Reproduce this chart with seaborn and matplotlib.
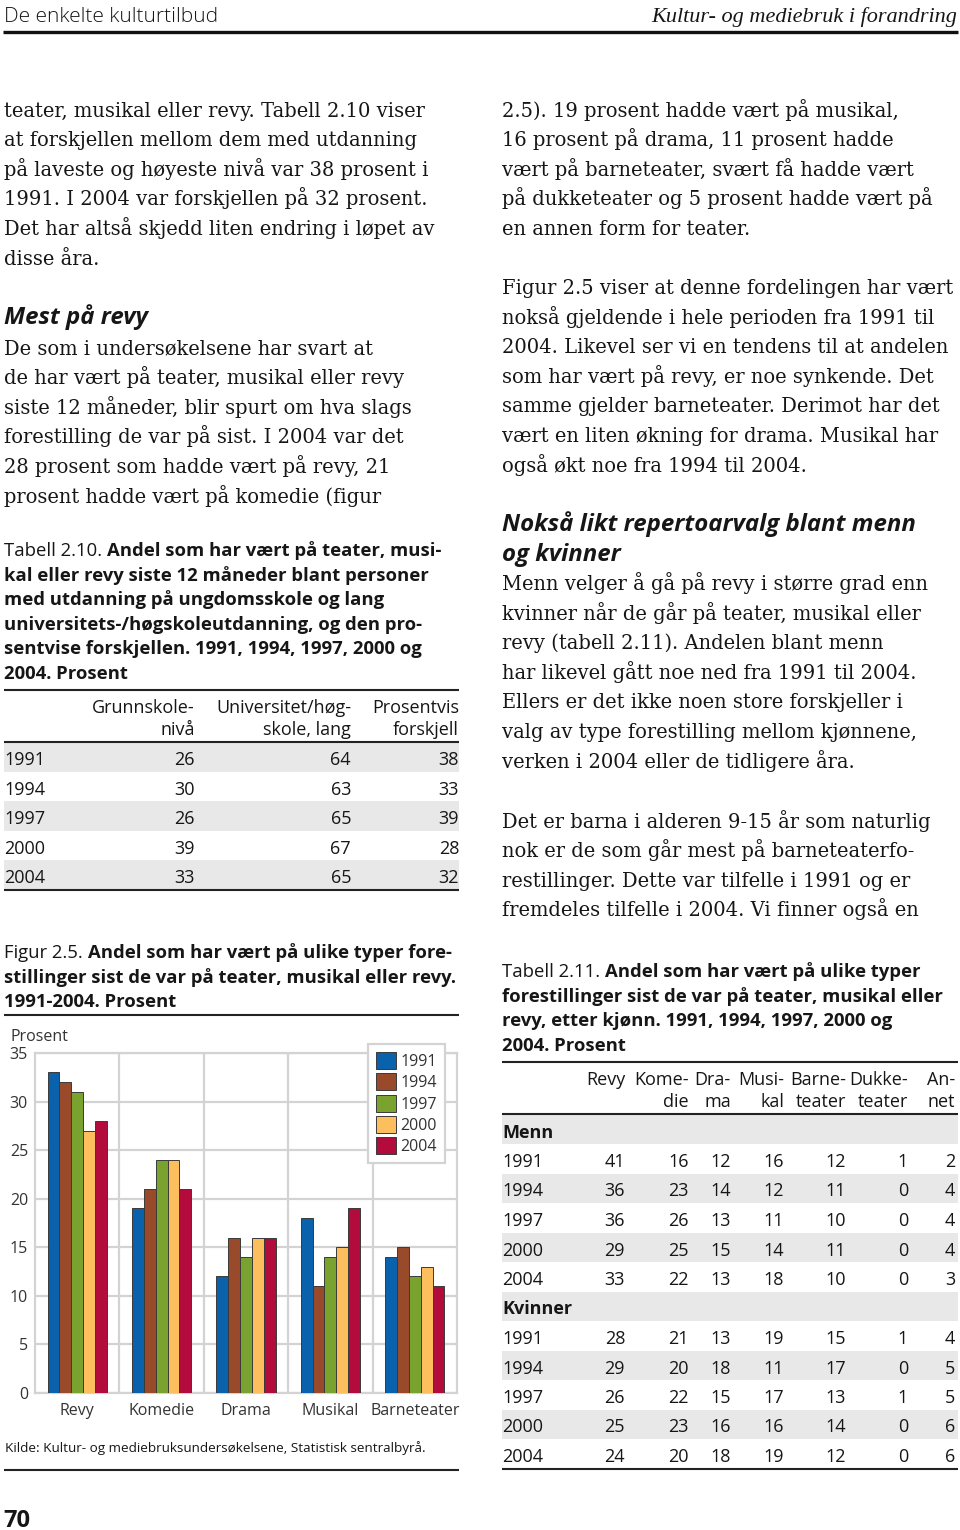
import numpy as np
import pandas as pd
import seaborn as sns
import matplotlib.pyplot as plt
from matplotlib import font_manager as fm

# Figur 2.5 data
categories = ['Revy', 'Komedie', 'Drama', 'Musikal', 'Barneteater']
years = ['1991', '1994', '1997', '2000', '2004']
v1991 = [33, 19, 12, 18, 14]
v1994 = [32, 21, 16, 11, 15]
v1997 = [31, 24, 14, 14, 12]
v2000 = [27, 24, 16, 15, 13]
v2004 = [28, 21, 16, 19, 11]
bar_colors = ['#0B62AC', '#984A2B', '#79A22F', '#FDBF5E', '#B40B3D']

# Tabell 2.10 data
t10_years = ['1991', '1994', '1997', '2000', '2004']
t10_grunn = [26, 30, 26, 39, 33]
t10_uni = [64, 63, 65, 67, 65]
t10_diff = [38, 33, 39, 28, 32]

# Tabell 2.11 data (Revy, Komedie, Drama, Musikal, Barneteater, Dukketeater, Annet)
t11_years = ['1991', '1994', '1997', '2000', '2004']
menn_rows = [[41, 16, 12, 16, 12, 1, 2],
             [36, 23, 14, 12, 11, 0, 4],
             [36, 26, 13, 11, 10, 0, 4],
             [29, 25, 15, 14, 11, 0, 4],
             [33, 22, 13, 18, 10, 0, 3]]
kvinner_rows = [[28, 21, 13, 19, 15, 1, 4],
                [29, 20, 18, 11, 17, 0, 5],
                [26, 22, 15, 17, 13, 1, 5],
                [25, 23, 16, 16, 14, 0, 6],
                [24, 20, 18, 19, 12, 0, 6]]

left_text = ["teater, musikal eller revy. Tabell 2.10 viser",
             "at forskjellen mellom dem med utdanning",
             "på laveste og høyeste nivå var 38 prosent i",
             "1991. I 2004 var forskjellen på 32 prosent.",
             "Det har altså skjedd liten endring i løpet av",
             "disse åra."]
left_text2 = ["De som i undersøkelsene har svart at",
              "de har vært på teater, musikal eller revy",
              "siste 12 måneder, blir spurt om hva slags",
              "forestilling de var på sist. I 2004 var det",
              "28 prosent som hadde vært på revy, 21",
              "prosent hadde vært på komedie (figur"]
right_text = ["2.5). 19 prosent hadde vært på musikal,",
              "16 prosent på drama, 11 prosent hadde",
              "vært på barneteater, svært få hadde vært",
              "på dukketeater og 5 prosent hadde vært på",
              "en annen form for teater."]
right_text2 = ["Figur 2.5 viser at denne fordelingen har vært",
               "nokså gjeldende i hele perioden fra 1991 til",
               "2004. Likevel ser vi en tendens til at andelen",
               "som har vært på revy, er noe synkende. Det",
               "samme gjelder barneteater. Derimot har det",
               "vært en liten økning for drama. Musikal har",
               "også økt noe fra 1994 til 2004."]
right_text3 = ["Menn velger å gå på revy i større grad enn",
               "kvinner når de går på teater, musikal eller",
               "revy (tabell 2.11). Andelen blant menn",
               "har likevel gått noe ned fra 1991 til 2004.",
               "Ellers er det ikke noen store forskjeller i",
               "valg av type forestilling mellom kjønnene,",
               "verken i 2004 eller de tidligere åra."]
right_text4 = ["Det er barna i alderen 9-15 år som naturlig",
               "nok er de som går mest på barneteaterfo-",
               "restillinger. Dette var tilfelle i 1991 og er",
               "fremdeles tilfelle i 2004. Vi finner også en"]


def pick_sans():
    """First installed sans family that really has a bold face."""
    for fam in ['Open Sans', 'Noto Sans', 'Lato', 'Roboto', 'Liberation Sans']:
        try:
            path = fm.findfont(fm.FontProperties(family=fam, weight='bold'),
                               fallback_to_default=False)
        except ValueError:
            continue
        name = path.lower().replace(' ', '').replace('-', '')
        if 'bold' in name and fam.lower().replace(' ', '') in name:
            return fam
    return 'DejaVu Sans'


sns.set_theme(style='white')
SANS_FAM = pick_sans()
plt.rcParams['font.family'] = [SANS_FAM, 'DejaVu Sans']

SERIF = 'DejaVu Serif'
SANS = [SANS_FAM, 'DejaVu Sans']
INK = '#161616'
BAND = '#E8E8E8'
SERIF_SIZE = 14.05
CAP_SIZE = 13.3
HEAD_SIZE = 17.3

fig = plt.figure(figsize=(9.6, 15.3), dpi=100)
page = fig.add_axes([0, 0, 1, 1])
page.set_xlim(0, 960)
page.set_ylim(1530, 0)
page.axis('off')


def body(x, y0, lines, step=29.6):
    for i, s in enumerate(lines):
        page.text(x, y0 + i * step, s, family=SERIF, fontsize=SERIF_SIZE, color=INK, va='baseline')


def caption(x, y0, first_reg, first_bold, rest, step=24.6):
    t = page.text(x, y0, first_reg, family=SANS, fontsize=CAP_SIZE, color=INK, va='baseline')
    page.annotate(first_bold, xy=(1, 0), xycoords=t, va='bottom', ha='left',
                  family=SANS, fontsize=CAP_SIZE, fontweight='bold', color=INK)
    for i, s in enumerate(rest):
        page.text(x, y0 + (i + 1) * step, s, family=SANS, fontsize=CAP_SIZE,
                  fontweight='bold', color=INK, va='baseline')


def heading(x, y, s):
    page.text(x, y, s, family=SANS, fontsize=HEAD_SIZE, fontweight='bold',
              style='italic', color=INK, va='baseline')


# header
page.text(4, 22, 'De enkelte kulturtilbud', family=SANS, fontsize=15, fontweight='light',
          color=INK, va='baseline')
page.text(957, 22, 'Kultur- og mediebruk i forandring', family='Liberation Serif',
          style='italic', fontsize=16, color=INK, va='baseline', ha='right')
page.hlines(32, 3, 958, color='#111', lw=2.4)

# left column text
body(4, 116.5, left_text)
heading(4, 324, 'Mest på revy')
body(4, 354.5, left_text2)

# right column text
body(502, 116.5, right_text)
body(502, 294, right_text2)
heading(502, 531, 'Nokså likt repertoarvalg blant menn')
heading(502, 560.5, 'og kvinner')
body(502, 590, right_text3)
body(502, 827.5, right_text4)

# Tabell 2.10
caption(4, 556, 'Tabell 2.10. ', 'Andel som har vært på teater, musi-',
        ['kal eller revy siste 12 måneder blant personer',
         'med utdanning på ungdomsskole og lang',
         'universitets-/høgskoleutdanning, og den pro-',
         'sentvise forskjellen. 1991, 1994, 1997, 2000 og',
         '2004. Prosent'])
page.hlines(690, 4, 459, color='#222', lw=1.5)
for xr, (h1, h2) in zip([195, 351, 459], [('Grunnskole-', 'nivå'),
                                          ('Universitet/høg-', 'skole, lang'),
                                          ('Prosentvis', 'forskjell')]):
    page.text(xr, 713, h1, family=SANS, fontsize=13, color=INK, ha='right', va='baseline')
    page.text(xr, 734.5, h2, family=SANS, fontsize=13, color=INK, ha='right', va='baseline')
page.hlines(742, 4, 459, color='#222', lw=1.5)
for i, yr in enumerate(t10_years):
    top = 742 + i * 29.5
    if i % 2 == 0:
        page.fill_between([4, 459], top, top + 29.5, color=BAND, lw=0)
    yb = top + 23
    page.text(4, yb, yr, family=SANS, fontsize=13, color=INK, va='baseline')
    for xr, val in zip([195, 351, 459], [t10_grunn[i], t10_uni[i], t10_diff[i]]):
        page.text(xr, yb, str(val), family=SANS, fontsize=13, color=INK, ha='right', va='baseline')
page.hlines(890, 4, 459, color='#222', lw=1.5)

# Figur 2.5 caption
caption(4, 958, 'Figur 2.5. ', 'Andel som har vært på ulike typer fore-',
        ['stillinger sist de var på teater, musikal eller revy.',
         '1991-2004. Prosent'])
page.hlines(1015, 4, 459, color='#222', lw=1.5)
page.text(10, 1041, 'Prosent', family=SANS, fontsize=11.5, color='#333', va='baseline')
page.text(5, 1452, 'Kilde: Kultur- og mediebruksundersøkelsene, Statistisk sentralbyrå.',
          family=SANS, fontsize=9.7, color=INK, va='baseline')
page.hlines(1470, 4, 459, color='#222', lw=1.5)
page.text(3, 1527, '70', family=SANS, fontsize=17, fontweight='bold', color=INK, va='baseline')

# Tabell 2.11
caption(502, 977, 'Tabell 2.11. ', 'Andel som har vært på ulike typer',
        ['forestillinger sist de var på teater, musikal eller',
         'revy, etter kjønn. 1991, 1994, 1997, 2000 og',
         '2004. Prosent'])
page.hlines(1062, 502, 958, color='#222', lw=1.5)
t11_right = [625, 689, 731, 784, 846, 908, 955]
t11_h1 = ['Revy', 'Kome-', 'Dra-', 'Musi-', 'Barne-', 'Dukke-', 'An-']
t11_h2 = ['', 'die', 'ma', 'kal', 'teater', 'teater', 'net']
for xr, h1, h2 in zip(t11_right, t11_h1, t11_h2):
    page.text(xr, 1085, h1, family=SANS, fontsize=13, color=INK, ha='right', va='baseline')
    page.text(xr, 1107, h2, family=SANS, fontsize=13, color=INK, ha='right', va='baseline')
page.hlines(1114, 502, 958, color='#222', lw=1.5)
row = 0
for group, rows in [('Menn', menn_rows), ('Kvinner', kvinner_rows)]:
    entries = [(group, None)] + list(zip(t11_years, rows))
    for label, vals in entries:
        top = 1114.5 + row * 29.5
        if row % 2 == 0:
            page.fill_between([502, 958], top, top + 29.5, color=BAND, lw=0)
        yb = top + 23
        page.text(502, yb, label, family=SANS, fontsize=13, color=INK, va='baseline',
                  fontweight='bold' if vals is None else 'normal')
        if vals is not None:
            for xr, v in zip(t11_right, vals):
                page.text(xr, yb, str(v), family=SANS, fontsize=13, color=INK,
                          ha='right', va='baseline')
        row += 1
page.hlines(1469, 502, 958, color='#222', lw=1.5)

# bar chart
ax = fig.add_axes([35 / 960, (1530 - 1393) / 1530, 422 / 960, 340 / 1530])
df = pd.DataFrame({
    'Type': categories * len(years),
    'År': np.repeat(years, len(categories)),
    'Prosent': v1991 + v1994 + v1997 + v2000 + v2004,
})
grid_c = '#D3D3D3'
sns.barplot(data=df, x='Type', y='Prosent', hue='År', palette=bar_colors, saturation=1,
            width=0.7, edgecolor='#3a3a3a', linewidth=0.7, ax=ax, zorder=3)
ax.set_xlim(-0.5, len(categories) - 0.5)
ax.set_ylim(0, 35)
ax.set_yticks(range(0, 36, 5))
ax.yaxis.grid(True, color=grid_c, lw=1.6, zorder=0)
ax.set_axisbelow(True)
for i in range(len(categories) - 1):
    ax.axvline(i + 0.5, color=grid_c, lw=1.6, zorder=1)
for sp in ax.spines.values():
    sp.set_visible(True)
    sp.set_color(grid_c)
    sp.set_linewidth(1.6)
ax.set_xlabel('')
ax.set_ylabel('')
ax.tick_params(axis='y', length=0, pad=5, labelsize=11.5, labelcolor='#333')
ax.tick_params(axis='x', length=0, pad=7, labelsize=11.5, labelcolor='#333')
handles, labels = ax.get_legend_handles_labels()
ax.get_legend().remove()
leg = ax.legend(handles, labels, loc='upper right', bbox_to_anchor=(0.9716, 1.026),
                frameon=True, fancybox=False, edgecolor=grid_c, framealpha=1,
                handlelength=1.25, handleheight=1.25, handletextpad=0.3,
                labelspacing=0.22, borderpad=0.5, fontsize=11.5, borderaxespad=0)
leg.get_frame().set_linewidth(1.6)
for t in leg.get_texts():
    t.set_color('#333')

fig.savefig('out.png', dpi=100)
